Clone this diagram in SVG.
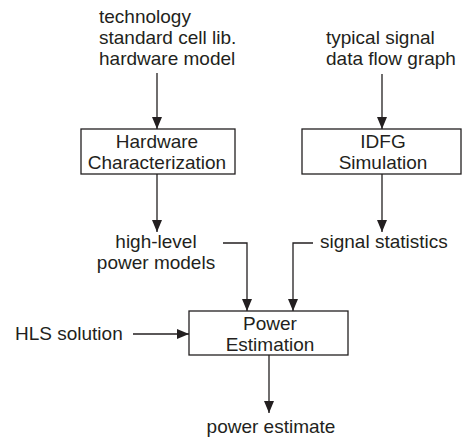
<svg xmlns="http://www.w3.org/2000/svg" width="463" height="441" viewBox="0 0 463 441">
  <style>
    text { font-family: "Liberation Sans", Arial, sans-serif; font-size: 19px; fill: #231f20; }
    .c { text-anchor: middle; }
    .box { fill: #ffffff; stroke: #231f20; stroke-width: 1.3; }
    .wire { fill: none; stroke: #231f20; stroke-width: 1.3; marker-end: url(#arrow); }
  </style>
  <defs>
    <marker id="arrow" markerUnits="userSpaceOnUse" markerWidth="12" markerHeight="12" viewBox="0 0 12 10" refX="12" refY="5" orient="auto">
      <path d="M0,0 L12,5 L0,10 Z" fill="#231f20"/>
    </marker>
  </defs>

  <!-- input labels -->
  <g id="tech-inputs">
    <text x="99" y="23">technology</text>
    <text x="99" y="44">standard cell lib.</text>
    <text x="99" y="65">hardware model</text>
  </g>
  <g id="signal-inputs">
    <text x="326" y="44">typical signal</text>
    <text x="326" y="65">data flow graph</text>
  </g>

  <!-- processing blocks -->
  <g id="hw-char">
    <rect class="box" x="81" y="129" width="154" height="45"/>
    <text class="c" x="157" y="148">Hardware</text>
    <text class="c" x="157" y="169">Characterization</text>
  </g>
  <g id="idfg-sim">
    <rect class="box" x="302" y="129" width="159" height="45"/>
    <text class="c" x="383" y="148">IDFG</text>
    <text class="c" x="383" y="169">Simulation</text>
  </g>

  <!-- intermediate results -->
  <g id="power-models">
    <text class="c" x="156" y="248">high-level</text>
    <text class="c" x="156" y="269">power models</text>
  </g>
  <g id="signal-stats">
    <text x="320" y="248">signal statistics</text>
  </g>
  <g id="hls-solution">
    <text x="15" y="340">HLS solution</text>
  </g>

  <g id="power-est">
    <rect class="box" x="189" y="311" width="159" height="44"/>
    <text class="c" x="270" y="330">Power</text>
    <text class="c" x="270" y="351">Estimation</text>
  </g>

  <g id="power-estimate">
    <text class="c" x="271" y="433">power estimate</text>
  </g>

  <!-- connectors -->
  <g id="connectors">
    <path class="wire" d="M157,73 V129"/>
    <path class="wire" d="M382,74 V129"/>
    <path class="wire" d="M157,174 V232"/>
    <path class="wire" d="M382,174 V232"/>
    <path class="wire" d="M223,243 H247 V311"/>
    <path class="wire" d="M313,243 H293 V311"/>
    <path class="wire" d="M133,334 H189"/>
    <path class="wire" d="M269,355 V413"/>
  </g>
</svg>
